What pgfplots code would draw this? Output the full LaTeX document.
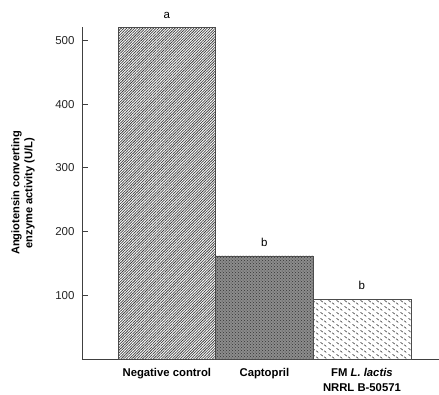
\documentclass[border=0pt]{standalone}
\usepackage{fontspec}
\setmainfont{Liberation Sans}
\usepackage{pgfplots}
\pgfplotsset{compat=1.18}
\usetikzlibrary{patterns,patterns.meta}

\pgfdeclarepatternformonly{smalldashes}{\pgfpointorigin}{\pgfpoint{8pt}{6pt}}{\pgfpoint{8pt}{6pt}}{%
  \pgfsetlinewidth{0.7pt}%
  \pgfpathmoveto{\pgfpoint{0.6pt}{5.4pt}}\pgfpathlineto{\pgfpoint{3.0pt}{3.4pt}}%
  \pgfpathmoveto{\pgfpoint{4.6pt}{2.6pt}}\pgfpathlineto{\pgfpoint{7.0pt}{0.6pt}}%
  \pgfusepath{stroke}%
}

\begin{document}
\begin{tikzpicture}
\path[use as bounding box] (-82pt,-35pt) rectangle (357pt,359pt);
\begin{axis}[
  scale only axis, width=357pt, height=332pt,
  at={(0,0)}, anchor=south west,
  xmin=-0.87, xmax=2.79, ymin=0, ymax=521,
  axis lines=left, axis line style={-, black!75, line width=0.7pt},
  /pgf/number format/assume math mode=true,
  xtick={0,1,2},
  xticklabels={Negative control, Captopril, {FM \textit{L. lactis}\\NRRL B-50571}},
  xticklabel style={font=\fontsize{11.3}{14.5}\selectfont\bfseries, align=center, anchor=north, yshift=0pt},
  x tick style={draw=none},
  ytick={100,200,300,400,500},
  yticklabel style={font=\fontsize{11.5}{13}\selectfont, xshift=-4pt, text=black!85},
  y tick style={black!75, line width=0.7pt},
  tick align=inside, major tick length=6pt,
  ylabel={Angiotensin converting\\enzyme activity (U/L)},
  ylabel style={at={(axis description cs:0,0.5)}, anchor=center, yshift=59pt, align=center, font=\fontsize{11.1}{13}\selectfont\bfseries},
  ybar, bar width=1, bar shift=0pt,
  nodes near coords, point meta=explicit symbolic,
  every node near coord/.style={anchor=south, inner sep=0pt, yshift=9pt, font=\fontsize{11.5}{13}\selectfont},
  clip=false,
]
\addplot[draw=black!70, fill=white, postaction={pattern={Lines[angle=45,distance=1.9pt,line width=0.75pt]}, pattern color=black!75}] coordinates {(0,520) [a]};
\addplot[draw=black!70, fill=black!45, postaction={pattern=crosshatch dots, pattern color=black!80}] coordinates {(1,162) [b]};
\addplot[draw=black!70, fill=white, postaction={pattern=smalldashes, pattern color=black!75}] coordinates {(2,94) [b]};
\end{axis}
\end{tikzpicture}
\end{document}
